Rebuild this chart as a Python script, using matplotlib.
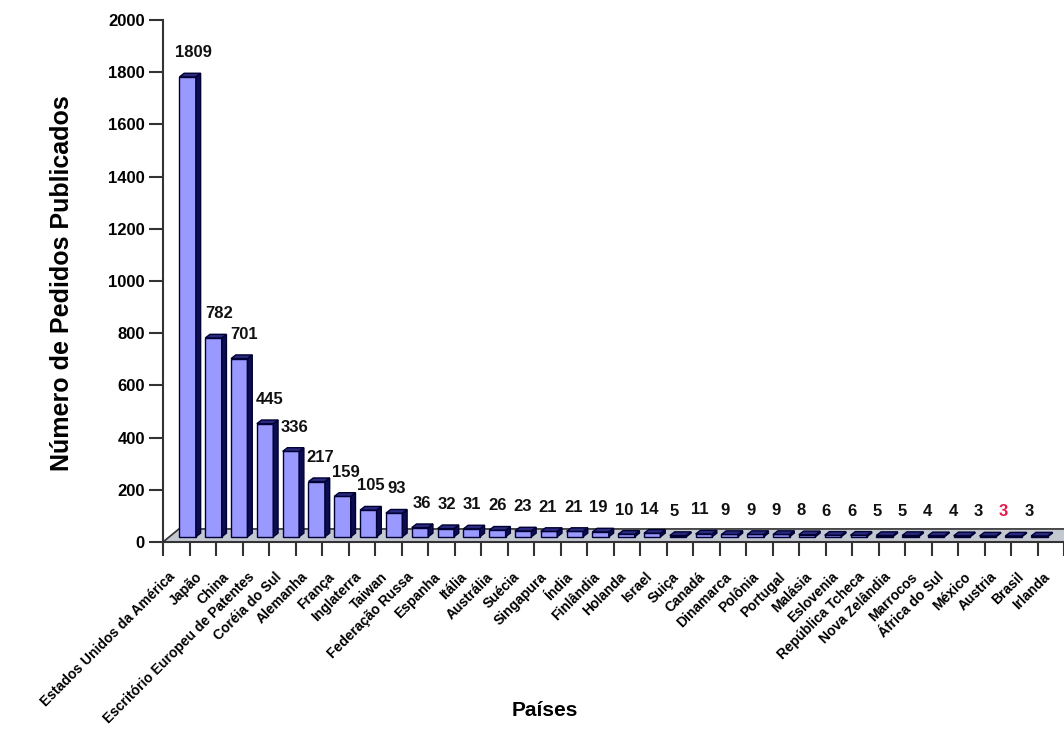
import matplotlib.pyplot as plt
import matplotlib.transforms as mtransforms
from matplotlib.patches import Polygon
import numpy as np

plt.rcParams['font.family'] = ['Liberation Sans', 'DejaVu Sans']
plt.rcParams['font.weight'] = 'bold'

# dados
paises = ['Estados Unidos da América', 'Japão', 'China', 'Escritório Europeu de Patentes',
          'Coréia do Sul', 'Alemanha', 'França', 'Inglaterra', 'Taiwan', 'Federação Russa',
          'Espanha', 'Itália', 'Austrália', 'Suécia', 'Singapura', 'Índia', 'Finlândia',
          'Holanda', 'Israel', 'Suiça', 'Canadá', 'Dinamarca', 'Polônia', 'Portugal',
          'Malásia', 'Eslovenia', 'República Tcheca', 'Nova Zelândia', 'Marrocos',
          'África do Sul', 'México', 'Austria', 'Brasil', 'Irlanda']
pedidos = [1809, 782, 701, 445, 336, 217, 159, 105, 93, 36, 32, 31, 26, 23, 21, 21, 19,
           10, 14, 5, 11, 9, 9, 9, 8, 6, 6, 5, 5, 4, 4, 3, 3, 3]
destaque = 'Brasil'

# aparencia "3D" (perspectiva tipo Excel)
frente = '#9999ff'
lado = '#0c0c50'
topo = '#2a2a80'
borda = '#000033'
persp = 0.974        # barras ficam um pouco "atras" do eixo
base = 20            # altura da base da barra (unidades do eixo)
largura = 0.62
dx, dy = 0.18, 14    # profundidade da barra
fdy = 50             # profundidade do piso

fig = plt.figure(figsize=(10.64, 7.29), dpi=100)
ax = fig.add_axes([163 / 1064, 1 - 542 / 729, 901 / 1064, 522 / 729])

x = np.arange(len(paises))
n = len(paises)
xb = 0.43 + persp * x          # centro da face frontal de cada barra
xr = 0.66 + 0.955 * x          # posicao dos rotulos de valor

# piso
piso = Polygon([(-0.5, 0), (0.1, fdy), (n + 0.5, fdy), (n + 0.5, 0)],
               closed=True, facecolor='#c4c8d0', edgecolor='#333333', lw=1.2, zorder=1)
ax.add_patch(piso)

cores = ['#3a1f1a' if p == destaque else frente for p in paises]
alturas = [persp * v for v in pedidos]
ax.bar(xb, alturas, width=largura, bottom=base, color=cores, edgecolor=borda,
       linewidth=1.0, zorder=3)

for xc, h in zip(xb, alturas):
    x0, x1 = xc - largura / 2, xc + largura / 2
    y0, y1 = base, base + h
    # lateral
    ax.add_patch(Polygon([(x1, y0), (x1 + dx, y0 + dy), (x1 + dx, y1 + dy), (x1, y1)],
                         closed=True, facecolor=lado, edgecolor=borda, lw=1.0, zorder=3))
    # topo
    ax.add_patch(Polygon([(x0, y1), (x0 + dx, y1 + dy), (x1 + dx, y1 + dy), (x1, y1)],
                         closed=True, facecolor=topo, edgecolor=borda, lw=1.0, zorder=3))

for xt, h, v, p in zip(xr, alturas, pedidos, paises):
    ax.text(xt, base + h + dy + 50, str(v), ha='center', va='bottom', fontsize=12,
            fontweight='bold', color='#e6194b' if p == destaque else '#111111', zorder=5)

ax.set_xlim(-0.5, -0.5 + 901 / 26.8)
ax.set_ylim(0, 2000)
ax.set_yticks(np.arange(0, 2001, 200))
ax.set_xticks(x)
ax.set_xticklabels(paises, rotation=45, ha='right', va='top', fontsize=10)
ax.set_xticks(np.arange(-0.5, n, 1), minor=True)
ax.tick_params(axis='x', which='major', length=0, pad=20)
ax.tick_params(axis='x', which='minor', length=10, width=1.5, color='#333333', direction='out')
ax.tick_params(axis='y', length=10, width=1.5, color='#333333', direction='out',
               labelsize=12, pad=3)
for lab in ax.get_yticklabels():
    lab.set_fontweight('bold')

desloc = mtransforms.ScaledTranslation(2 / 100, 0, fig.dpi_scale_trans)
for lab in ax.get_xticklabels():
    lab.set_transform(lab.get_transform() + desloc)

for s in ['top', 'right']:
    ax.spines[s].set_visible(False)
ax.spines['left'].set_color('#333333')
ax.spines['left'].set_linewidth(1.5)
ax.spines['bottom'].set_color('#333333')
ax.spines['bottom'].set_linewidth(1.5)
ax.spines['bottom'].set_zorder(4)

fig.text(62 / 1064, 1 - 283 / 729, 'Número de Pedidos Publicados', rotation=90,
         ha='center', va='center', fontsize=18, fontweight='bold')
fig.text(545 / 1064, 1 - 711 / 729, 'Países', ha='center', va='center',
         fontsize=15, fontweight='bold')

fig.savefig('out.png', dpi=100)
